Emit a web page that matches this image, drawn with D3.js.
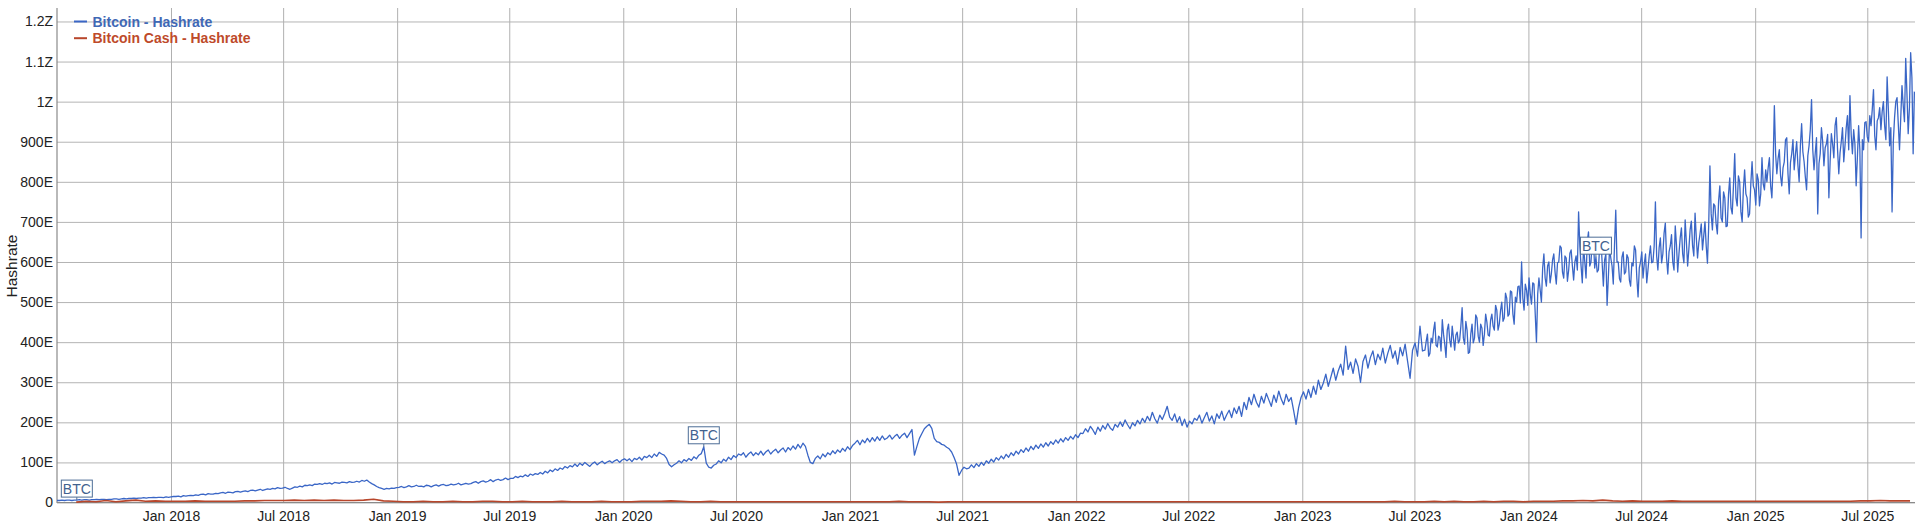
<!DOCTYPE html>
<html>
<head>
<meta charset="utf-8">
<script src="https://cdn.jsdelivr.net/npm/d3@7"></script>
<style>
  html, body { margin: 0; padding: 0; background: #ffffff; }
  svg { display: block; font-family: "Liberation Sans", Arial, sans-serif; }
</style>
</head>
<body>
<svg id="chart" width="1919" height="525"></svg>
<script>
// ---------------- DATA ----------------
// Bitcoin hashrate (in E = EH/s)
// Early segment: one value every 4 days starting 2017-07-01
const btcEarlyStart = "2017-07-01";
const btcEarlyStepDays = 4;
const btc2017H2 = [5,5,6,5,6,6,5,6,6,7,6,7,7,6,7,7,8,7,8,8,7,8,8,9,9,8,9,10,9,10,10,11,10,11,11,12,11,12,12,13,12,13,13,12,14,13];
const btc2018H1 = [14,15,15,16,14,17,16,17,18,17,19,18,20,21,19,22,21,21,23,22,24,25,23,26,25,24,27,28,26,28,29,27,30,31,29,31,33,30,32,34,33,35,34,37,35,36];
const btc2018H2 = [38,35,33,36,39,38,41,39,43,42,44,42,46,45,47,45,48,47,49,46,50,49,48,51,50,49,52,50,51,53,51,55,53,56,51,47,44,40,37,35,33,35,34,36,35,37];
const btc2019H1 = [38,40,37,39,42,39,40,43,40,41,39,43,42,39,42,44,41,44,45,42,43,46,44,45,48,44,46,48,46,47,50,52,48,52,54,51,53,57,52,56,58,55,57,61,57,60];
const btc2019H2 = [60,65,62,66,64,69,65,71,68,72,70,75,71,78,74,81,77,84,80,86,83,90,86,92,89,96,90,98,93,100,95,90,97,101,94,99,103,97,101,104,99,104,107,100,106,109];
const btc2020H1 = [104,109,102,110,107,113,106,115,112,118,112,121,115,125,121,118,110,95,89,94,98,104,99,107,103,110,105,114,109,118,122,139,98,88,86,93,96,104,99,108,103,113,107,117,112,121];
const btc2020H2 = [118,124,113,121,126,117,124,119,128,118,126,131,121,128,133,124,131,136,126,137,131,141,133,145,136,148,140,118,100,97,110,116,109,121,114,124,119,129,122,131,125,135,128,139,132,142];
const btc2021H1 = [148,155,144,156,149,160,151,162,153,164,155,166,157,161,168,158,165,170,160,168,173,162,172,182,118,140,160,172,184,190,195,185,160,152,150,145,143,138,134,126,112,96,68,80,88,84];
const btc2021H2 = [86,94,87,97,90,100,93,104,98,108,101,112,106,116,109,120,113,124,117,128,121,132,125,136,128,140,132,143,135,146,138,149,141,152,145,156,148,159,151,162,155,165,158,169,162,173];
const btc2022H1 = [172,184,176,190,181,170,188,178,192,183,197,186,180,195,188,201,190,206,194,184,199,191,205,196,210,200,215,204,225,209,198,218,207,222,240,213,205,221,200,214,192,208,188,203,196,210];
const btc2022H2 = [205,218,198,212,225,203,216,196,221,210,228,205,219,230,212,236,222,240,215,250,232,262,244,270,250,238,265,248,272,256,240,268,250,278,258,244,270,252,262,230,195,236,262,276,258,282];
const btc2023H1 = [262,290,270,305,282,298,320,290,312,335,305,328,345,318,390,332,350,322,358,340,300,352,368,335,362,378,344,370,356,385,348,372,392,360,378,345,387,366,395,352,310,380,398,365,440,378];
// Late segment: one value every 2 days starting 2023-07-18
const btcLateStart = "2023-07-18";
const btcLateStepDays = 2;
const btc2023H2 = [380,402,420,365,372,410,398,430,450,392,388,415,412,378,456,420,395,362,430,445,
  405,388,440,410,380,418,425,398,405,440,486,410,395,452,430,372,375,420,445,398,
  410,468,460,415,400,445,435,392,420,470,450,418,415,455,470,440,430,492,480,430,
  445,478,500,452,460,522,510,465,470,528,525,470,445,512,500,538,540,498,600,510,
  480,545,530,492,560,520,495,548,545,470,400,520];
const btc2024H1 = [560,530,500,585,620,560,540,590,600,548,570,605,620,575,545,598,600,640,635,575,
  560,615,610,552,580,622,630,590,555,600,615,580,725,640,590,548,640,600,560,650,
  675,590,600,655,650,585,612,575,580,640,660,598,540,605,620,492,560,635,610,590,
  545,642,729,600,600,558,550,612,625,570,575,618,610,555,540,598,590,640,630,560,
  513,585,600,625,560,595,620,548,580,615,640,598];
const btc2024H2 = [600,640,750,615,580,635,660,598,620,672,697,610,570,625,640,668,600,580,690,642,
  575,620,660,685,620,598,705,650,590,632,680,702,640,615,722,660,610,648,670,695,
  630,665,700,640,597,690,840,720,680,745,740,695,670,752,790,710,700,775,760,688,
  690,768,810,735,720,790,870,760,740,815,800,725,700,782,830,770,760,712,720,795,
  850,790,780,742,820,805,740,770,860,795,780,830];
const btc2025H1 = [800,835,860,790,760,842,990,870,820,858,880,815,790,835,850,905,910,820,770,848,
  870,905,830,868,900,842,800,890,945,875,850,812,780,865,890,930,1005,880,830,872,
  910,720,845,870,935,900,840,885,895,918,760,850,920,895,860,940,960,880,820,872,
  900,935,850,890,935,965,880,1015,918,870,930,895,790,860,940,880,660,905,880,948,
  950,912,900,965,940,980,1030,915,880,952,960,985];
const btc2025H2 = [930,975,1000,940,905,1062,980,890,935,725,900,960,1000,1010,945,880,960,1040,990,950,
  1108,1020,920,985,1122,1060,870,1025];

// Bitcoin Cash hashrate (in E), one value every 16 days starting 2017-08-01
const bchStart = "2017-08-01";
const bchStepDays = 16;
const bchHashrate = [
  1,3,2,5,2,4,6,3,4,3,
  3,3,4,3,3,3,3,4,4,5,5,5,6,5,6,5,6,5,5,6,8,4,3,
  2,2,3,2,2,3,2,2,3,3,2,2,3,2,2,2,3,2,2,2,3,2,2,
  2,3,3,3,4,3,2,2,3,2,2,2,2,2,2,2,2,2,2,2,2,2,2,
  2,2,2,2,3,2,2,2,1,2,2,2,2,2,2,2,2,2,2,2,2,2,2,
  2,2,2,2,2,2,2,2,2,2,2,2,2,2,2,2,2,2,2,2,2,2,2,
  2,2,2,2,2,2,2,2,3,2,2,2,3,2,3,2,2,3,2,3,3,2,3,
  3,3,4,4,5,4,6,4,3,4,3,3,3,4,3,3,3,3,3,3,3,3,3,
  3,3,3,3,3,3,3,3,3,4,4,5,4,4,4
];

const seriesNames = ["Bitcoin - Hashrate", "Bitcoin Cash - Hashrate"];
const seriesColors = ["#3a66c6", "#b8462b"];
const legendColors = ["#3f68b5", "#be4a2a"];

const yTickValues = [0,100,200,300,400,500,600,700,800,900,1000,1100,1200];
const yTickLabels = ["0","100E","200E","300E","400E","500E","600E","700E","800E","900E","1Z","1.1Z","1.2Z"];
const xTickDates = ["2018-01-01","2018-07-01","2019-01-01","2019-07-01","2020-01-01","2020-07-01","2021-01-01","2021-07-01","2022-01-01","2022-07-01","2023-01-01","2023-07-01","2024-01-01","2024-07-01","2025-01-01","2025-07-01"];
const xTickLabels = ["Jan 2018","Jul 2018","Jan 2019","Jul 2019","Jan 2020","Jul 2020","Jan 2021","Jul 2021","Jan 2022","Jul 2022","Jan 2023","Jul 2023","Jan 2024","Jul 2024","Jan 2025","Jul 2025"];
const xDomain = ["2017-07-01","2025-09-16"];
const yMax = 1233.6;

const annotationDates = ["2017-08-01","2020-05-11","2024-04-20"];
const annotationText = "BTC";

// ---------------- BUILD ----------------
(function draw() {
  const parse = d3.utcParse("%Y-%m-%d");
  const early = [].concat(btc2017H2, btc2018H1, btc2018H2, btc2019H1, btc2019H2, btc2020H1, btc2020H2,
    btc2021H1, btc2021H2, btc2022H1, btc2022H2, btc2023H1);
  const late = [].concat(btc2023H2, btc2024H1, btc2024H2, btc2025H1, btc2025H2);
  const btcSeries = early.map((v, i) => ({ date: d3.utcDay.offset(parse(btcEarlyStart), i * btcEarlyStepDays), value: v }))
    .concat(late.map((v, i) => ({ date: d3.utcDay.offset(parse(btcLateStart), i * btcLateStepDays), value: v })));
  const bchSeries = bchHashrate.map((v, i) => ({ date: d3.utcDay.offset(parse(bchStart), i * bchStepDays), value: v }));

  const mLeft = 57, mRight = 1915, mTop = 8, mBottom = 502.5;

  const svg = d3.select("#chart");
  const x = d3.scaleUtc().domain(xDomain.map(parse)).range([mLeft, mRight]);
  const y = d3.scaleLinear().domain([0, yMax]).range([mBottom, mTop]);

  // Horizontal grid + y labels
  const yAxis = d3.axisLeft(y)
    .tickValues(yTickValues)
    .tickFormat((d, i) => yTickLabels[i])
    .tickSize(-(mRight - mLeft))
    .tickPadding(4);
  const gy = svg.append("g").attr("transform", `translate(${mLeft},0)`).call(yAxis);
  gy.select(".domain").remove();
  gy.selectAll(".tick line").attr("stroke", "#b4b4b4").attr("stroke-width", 1);
  gy.selectAll(".tick text").attr("fill", "#222").attr("font-size", 14)
    .attr("font-family", "'Liberation Sans', Arial, sans-serif");

  // Vertical grid + x labels
  const xAxis = d3.axisBottom(x)
    .tickValues(xTickDates.map(parse))
    .tickFormat((d, i) => xTickLabels[i])
    .tickSize(-(mBottom - mTop))
    .tickPadding(8.5);
  const gx = svg.append("g").attr("transform", `translate(0,${mBottom})`).call(xAxis);
  gx.select(".domain").remove();
  gx.selectAll(".tick line").attr("stroke", "#b0b0b0").attr("stroke-width", 1);
  gx.selectAll(".tick text").attr("fill", "#222").attr("font-size", 14)
    .attr("font-family", "'Liberation Sans', Arial, sans-serif");

  // Axis lines
  svg.append("line").attr("x1", mLeft).attr("x2", mLeft).attr("y1", mTop).attr("y2", mBottom + 0.5)
    .attr("stroke", "#8a8a8a").attr("stroke-width", 1.2);
  svg.append("line").attr("x1", mLeft).attr("x2", mRight).attr("y1", mBottom).attr("y2", mBottom)
    .attr("stroke", "#8a8a8a").attr("stroke-width", 1.2);

  // Y title
  svg.append("text")
    .attr("transform", `translate(11,266) rotate(-90)`)
    .attr("text-anchor", "middle")
    .attr("dominant-baseline", "central")
    .attr("font-size", 15.5)
    .attr("fill", "#222")
    .text("Hashrate");

  // Clip
  svg.append("clipPath").attr("id", "plotclip")
    .append("rect").attr("x", mLeft).attr("y", 0).attr("width", mRight - mLeft).attr("height", mBottom + 2);

  const line = d3.line().x(d => x(d.date)).y(d => y(d.value));

  const plot = svg.append("g").attr("clip-path", "url(#plotclip)");
  plot.append("path").datum(btcSeries)
    .attr("fill", "none").attr("stroke", seriesColors[0]).attr("stroke-width", 1.3)
    .attr("stroke-linejoin", "round").attr("d", line);
  plot.append("path").datum(bchSeries)
    .attr("fill", "none").attr("stroke", seriesColors[1]).attr("stroke-width", 1.6)
    .attr("stroke-linejoin", "round").attr("d", line);

  // Annotations
  annotationDates.forEach(ds => {
    const t = parse(ds);
    const pt = d3.least(btcSeries, d => Math.abs(d.date - t));
    const px = x(pt.date), py = y(pt.value);
    const bw = 31, bh = 17, tick = 3;
    const g = svg.append("g");
    g.append("line").attr("x1", px).attr("x2", px).attr("y1", py - tick).attr("y2", py)
      .attr("stroke", "#4d6d96").attr("stroke-width", 1);
    g.append("rect").attr("x", px - bw / 2).attr("y", py - tick - bh)
      .attr("width", bw).attr("height", bh)
      .attr("fill", "#ffffff").attr("stroke", "#4d6d96").attr("stroke-width", 1);
    g.append("text").attr("x", px).attr("y", py - tick - bh / 2)
      .attr("text-anchor", "middle").attr("dominant-baseline", "central")
      .attr("font-size", 14).attr("fill", "#42628f").text(annotationText);
  });

  // Legend
  const legend = svg.append("g").attr("transform", "translate(74,21.5)");
  seriesNames.forEach((name, i) => {
    const row = legend.append("g").attr("transform", `translate(0,${i * 16.7})`);
    row.append("line").attr("x1", 0).attr("x2", 13).attr("y1", 0).attr("y2", 0)
      .attr("stroke", seriesColors[i]).attr("stroke-width", 2);
    row.append("text").attr("x", 18.5).attr("y", 5)
      .attr("font-size", 14).attr("font-weight", "bold")
      .attr("fill", legendColors[i]).text(name);
  });
})();
</script>
</body>
</html>
